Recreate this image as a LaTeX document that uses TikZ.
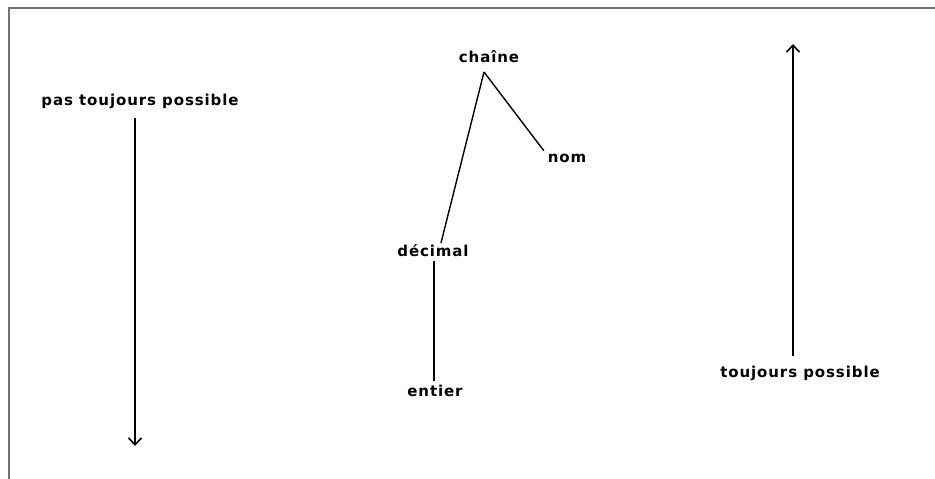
\documentclass[tikz,border=0pt]{standalone}
\usepackage{fontspec}
\setmainfont{DejaVu Sans}[LetterSpace=6]
\usetikzlibrary{arrows.meta}
\begin{document}
\begin{tikzpicture}[x=1pt,y=-1pt,
  lbl/.style={inner sep=0pt, outer sep=4pt, font=\fontsize{15}{17}\selectfont\bfseries},
  conn/.style={line width=1.4pt, black},
  arr/.style={line width=1.4pt, black, -{Straight Barb[length=7pt,width=13pt,line width=1.6pt]}},
  frame/.style={line width=2pt, black!55}]
\useasboundingbox (0,0) rectangle (935,479);
\draw[frame] (9,479) -- (9,8) -- (935,8);
\node[lbl] (pas) at (140,101) {pas toujours possible};
\node[lbl] (chaine) at (489,57) {chaîne};
\node[lbl] (nom) at (567,158) {nom};
\node[lbl] (decimal) at (433,251) {décimal};
\node[lbl] (entier) at (435,391) {entier};
\node[lbl] (toujours) at (800,373) {toujours possible};
\coordinate (apex) at (484,72);
\coordinate (pasend) at (135,446);
\coordinate (toujend) at (793,44);
\draw[conn] (apex) -- ([yshift=-1pt]nom.north west);
\draw[conn] (apex) -- ([xshift=8pt,yshift=-2pt]decimal.north);
\draw[conn] (decimal.south) ++(1pt,0) coordinate (dtop) (dtop) -- (dtop |- entier.north);
\draw[arr] (135,118) -- (pasend);
\draw[arr] (793,356) -- (toujend);
\end{tikzpicture}
\end{document}
